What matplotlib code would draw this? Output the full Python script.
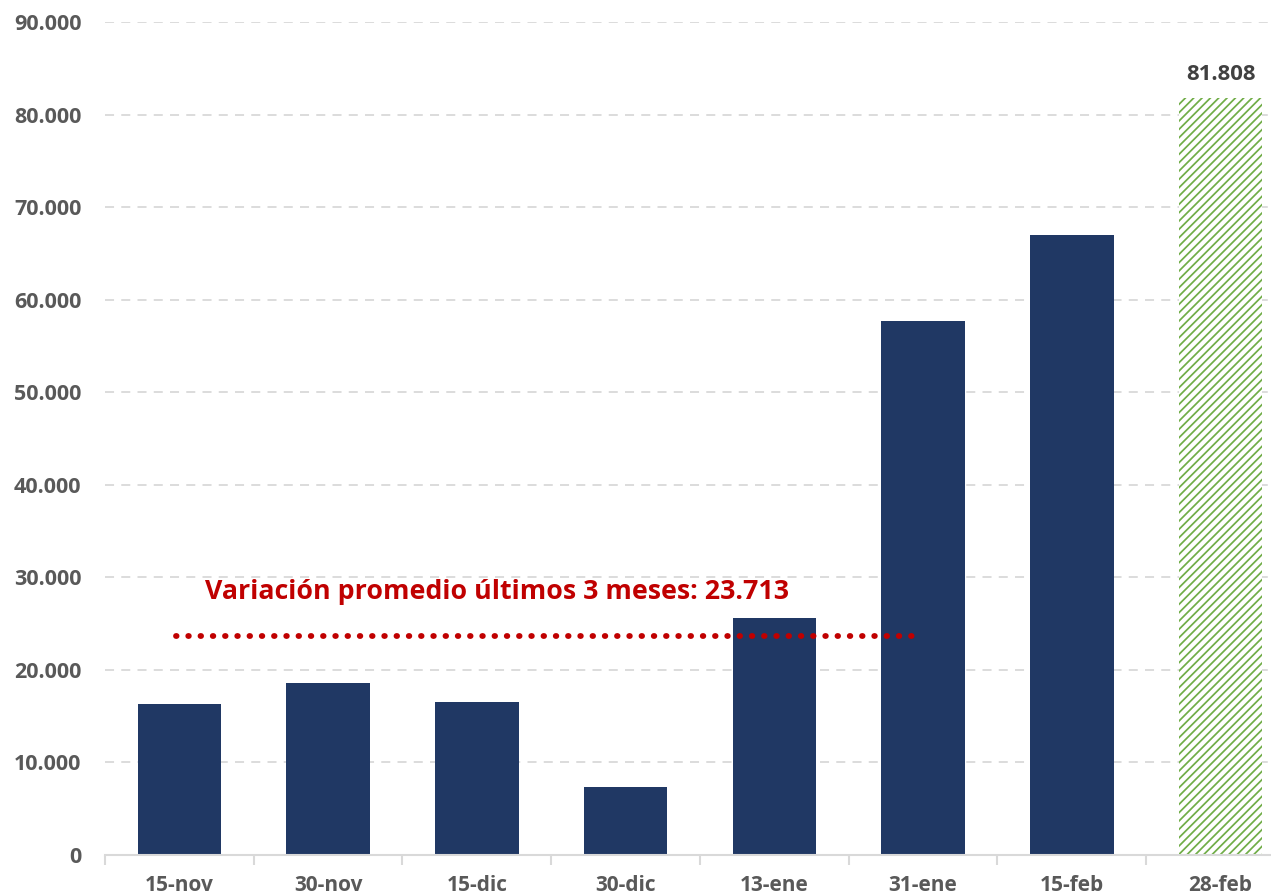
import matplotlib
matplotlib.use("Agg")
import matplotlib.pyplot as plt
from matplotlib.ticker import FuncFormatter, FixedLocator

categories = ["15-nov", "30-nov", "15-dic", "30-dic", "13-ene", "31-ene", "15-feb", "28-feb"]
values = [16300, 18600, 16550, 7350, 25600, 57700, 67000, 81808]
average_value = 23713
average_label = "Variación promedio últimos 3 meses: 23.713"
y_ticks = [0, 10000, 20000, 30000, 40000, 50000, 60000, 70000, 80000, 90000]

def fmt(v, pos=None):
    return f"{int(v):,}".replace(",", ".")

plt.rcParams['font.family'] = ['Open Sans', 'DejaVu Sans']
plt.rcParams['hatch.linewidth'] = 1.25

fig = plt.figure(figsize=(12.71, 8.96), dpi=100)
ax = fig.add_axes([105/1271, 41/896, 1 - 105/1271, (855-22)/896])

navy = '#203864'
green = '#70AD47'
gray_text = '#595959'

n = len(categories)
xs = list(range(n))
ax.bar(xs[:-1], values[:-1], width=0.56, color=navy, zorder=3)
ax.bar(xs[-1:], values[-1:], width=0.56, facecolor='white', edgecolor=green,
       hatch='////', linewidth=0, zorder=3)

ax.text(xs[-1], values[-1] + 1900, fmt(values[-1]), ha='center', va='baseline',
        fontsize=16, fontweight='bold', color='#404040')

ax.plot([-0.02, 4.96], [average_value, average_value], linestyle=(0, (0.1, 2.0)),
        color='#C00000', linewidth=4.2, dash_capstyle='round', zorder=4)
ax.text(0.17, 28400, average_label, ha='left', va='center', fontsize=19.3,
        fontweight='bold', color='#C00000', zorder=5)

ax.set_xlim(-0.5, (1271 - 179) / 148.8)
ax.set_ylim(0, 90000)
ax.set_yticks(y_ticks)
ax.yaxis.set_major_formatter(FuncFormatter(fmt))
ax.set_xticks(xs)
ax.set_xticklabels(categories)
ax.xaxis.set_minor_locator(FixedLocator([i - 0.5 for i in range(n + 1)]))
ax.tick_params(axis='x', which='major', length=0, pad=14.5, labelsize=15, labelcolor=gray_text)
ax.tick_params(axis='x', which='minor', length=7, width=1.5, color='#D9D9D9')
ax.tick_params(axis='y', length=0, pad=17, labelsize=15.5, labelcolor=gray_text)
for lab in ax.get_xticklabels() + ax.get_yticklabels():
    lab.set_fontweight('bold')

ax.grid(axis='y', linestyle=(0, (5, 4)), color='#D9D9D9', linewidth=1.3, zorder=0)
for s in ['top', 'right', 'left']:
    ax.spines[s].set_visible(False)
ax.spines['bottom'].set_color('#D9D9D9')
ax.spines['bottom'].set_linewidth(1.5)
ax.spines['bottom'].set_zorder(5)

fig.savefig('out.png', dpi=100)
